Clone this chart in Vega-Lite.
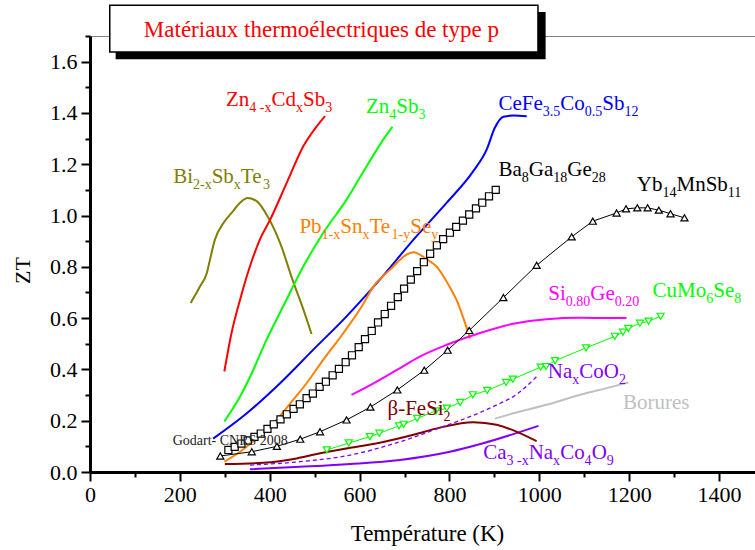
{
  "$schema": "https://vega.github.io/schema/vega-lite/v6.json",
  "width": 665,
  "height": 436,
  "autosize": "none",
  "padding": {"left": 90, "top": 36, "right": 0, "bottom": 78},
  "background": "white",
  "config": {
    "view": {"stroke": "#808080", "strokeWidth": 1},
    "font": "Liberation Serif"
  },
  "datasets": {
    "zt": [
      {"s": "Bi2-xSbxTe3", "T": 224, "ZT": 0.659}, {"s": "Bi2-xSbxTe3", "T": 245, "ZT": 0.724}, {"s": "Bi2-xSbxTe3", "T": 260, "ZT": 0.776}, {"s": "Bi2-xSbxTe3", "T": 267, "ZT": 0.828}, {"s": "Bi2-xSbxTe3", "T": 278, "ZT": 0.906}, {"s": "Bi2-xSbxTe3", "T": 297, "ZT": 0.971}, {"s": "Bi2-xSbxTe3", "T": 315, "ZT": 1.01}, {"s": "Bi2-xSbxTe3", "T": 334, "ZT": 1.05}, {"s": "Bi2-xSbxTe3", "T": 351, "ZT": 1.068}, {"s": "Bi2-xSbxTe3", "T": 371, "ZT": 1.056}, {"s": "Bi2-xSbxTe3", "T": 397, "ZT": 0.991}, {"s": "Bi2-xSbxTe3", "T": 423, "ZT": 0.893}, {"s": "Bi2-xSbxTe3", "T": 452, "ZT": 0.743}, {"s": "Bi2-xSbxTe3", "T": 475, "ZT": 0.633}, {"s": "Bi2-xSbxTe3", "T": 493, "ZT": 0.538},

      {"s": "Zn4-xCdxSb3", "T": 299, "ZT": 0.392}, {"s": "Zn4-xCdxSb3", "T": 315, "ZT": 0.542}, {"s": "Zn4-xCdxSb3", "T": 334, "ZT": 0.672}, {"s": "Zn4-xCdxSb3", "T": 356, "ZT": 0.802}, {"s": "Zn4-xCdxSb3", "T": 378, "ZT": 0.906}, {"s": "Zn4-xCdxSb3", "T": 401, "ZT": 0.984}, {"s": "Zn4-xCdxSb3", "T": 438, "ZT": 1.128}, {"s": "Zn4-xCdxSb3", "T": 475, "ZT": 1.271}, {"s": "Zn4-xCdxSb3", "T": 505, "ZT": 1.349}, {"s": "Zn4-xCdxSb3", "T": 523, "ZT": 1.388},

      {"s": "Zn4Sb3", "T": 299, "ZT": 0.197}, {"s": "Zn4Sb3", "T": 334, "ZT": 0.294}, {"s": "Zn4Sb3", "T": 360, "ZT": 0.385}, {"s": "Zn4Sb3", "T": 393, "ZT": 0.516}, {"s": "Zn4Sb3", "T": 430, "ZT": 0.646}, {"s": "Zn4Sb3", "T": 475, "ZT": 0.802}, {"s": "Zn4Sb3", "T": 519, "ZT": 0.932}, {"s": "Zn4Sb3", "T": 571, "ZT": 1.062}, {"s": "Zn4Sb3", "T": 616, "ZT": 1.193}, {"s": "Zn4Sb3", "T": 653, "ZT": 1.297}, {"s": "Zn4Sb3", "T": 673, "ZT": 1.346},

      {"s": "CeFe3.5Co0.5Sb12", "T": 274, "ZT": 0.13}, {"s": "CeFe3.5Co0.5Sb12", "T": 349, "ZT": 0.229}, {"s": "CeFe3.5Co0.5Sb12", "T": 423, "ZT": 0.346}, {"s": "CeFe3.5Co0.5Sb12", "T": 497, "ZT": 0.477}, {"s": "CeFe3.5Co0.5Sb12", "T": 571, "ZT": 0.607}, {"s": "CeFe3.5Co0.5Sb12", "T": 645, "ZT": 0.75}, {"s": "CeFe3.5Co0.5Sb12", "T": 720, "ZT": 0.906}, {"s": "CeFe3.5Co0.5Sb12", "T": 794, "ZT": 1.05}, {"s": "CeFe3.5Co0.5Sb12", "T": 853, "ZT": 1.173}, {"s": "CeFe3.5Co0.5Sb12", "T": 883, "ZT": 1.258}, {"s": "CeFe3.5Co0.5Sb12", "T": 901, "ZT": 1.342}, {"s": "CeFe3.5Co0.5Sb12", "T": 920, "ZT": 1.385}, {"s": "CeFe3.5Co0.5Sb12", "T": 942, "ZT": 1.39}, {"s": "CeFe3.5Co0.5Sb12", "T": 972, "ZT": 1.387},

      {"s": "Pb1-xSnxTe1-ySey", "T": 299, "ZT": 0.04}, {"s": "Pb1-xSnxTe1-ySey", "T": 334, "ZT": 0.079}, {"s": "Pb1-xSnxTe1-ySey", "T": 371, "ZT": 0.131}, {"s": "Pb1-xSnxTe1-ySey", "T": 415, "ZT": 0.203}, {"s": "Pb1-xSnxTe1-ySey", "T": 452, "ZT": 0.281}, {"s": "Pb1-xSnxTe1-ySey", "T": 482, "ZT": 0.346}, {"s": "Pb1-xSnxTe1-ySey", "T": 519, "ZT": 0.437}, {"s": "Pb1-xSnxTe1-ySey", "T": 564, "ZT": 0.542}, {"s": "Pb1-xSnxTe1-ySey", "T": 605, "ZT": 0.646}, {"s": "Pb1-xSnxTe1-ySey", "T": 631, "ZT": 0.724}, {"s": "Pb1-xSnxTe1-ySey", "T": 668, "ZT": 0.789}, {"s": "Pb1-xSnxTe1-ySey", "T": 705, "ZT": 0.848}, {"s": "Pb1-xSnxTe1-ySey", "T": 720, "ZT": 0.857}, {"s": "Pb1-xSnxTe1-ySey", "T": 749, "ZT": 0.83}, {"s": "Pb1-xSnxTe1-ySey", "T": 772, "ZT": 0.8}, {"s": "Pb1-xSnxTe1-ySey", "T": 801, "ZT": 0.72}, {"s": "Pb1-xSnxTe1-ySey", "T": 816, "ZT": 0.67}, {"s": "Pb1-xSnxTe1-ySey", "T": 831, "ZT": 0.6}, {"s": "Pb1-xSnxTe1-ySey", "T": 846, "ZT": 0.52},

      {"s": "Si0.80Ge0.20", "T": 582, "ZT": 0.301}, {"s": "Si0.80Ge0.20", "T": 631, "ZT": 0.346}, {"s": "Si0.80Ge0.20", "T": 683, "ZT": 0.398}, {"s": "Si0.80Ge0.20", "T": 734, "ZT": 0.45}, {"s": "Si0.80Ge0.20", "T": 794, "ZT": 0.496}, {"s": "Si0.80Ge0.20", "T": 868, "ZT": 0.542}, {"s": "Si0.80Ge0.20", "T": 942, "ZT": 0.578}, {"s": "Si0.80Ge0.20", "T": 1016, "ZT": 0.596}, {"s": "Si0.80Ge0.20", "T": 1091, "ZT": 0.601}, {"s": "Si0.80Ge0.20", "T": 1194, "ZT": 0.6},

      {"s": "NaxCoO2", "T": 356, "ZT": 0.027}, {"s": "NaxCoO2", "T": 467, "ZT": 0.04}, {"s": "NaxCoO2", "T": 579, "ZT": 0.066}, {"s": "NaxCoO2", "T": 690, "ZT": 0.118}, {"s": "NaxCoO2", "T": 775, "ZT": 0.17}, {"s": "NaxCoO2", "T": 868, "ZT": 0.232}, {"s": "NaxCoO2", "T": 913, "ZT": 0.268}, {"s": "NaxCoO2", "T": 942, "ZT": 0.294}, {"s": "NaxCoO2", "T": 998, "ZT": 0.379},

      {"s": "Ca3-xNaxCo4O9", "T": 356, "ZT": 0.0105}, {"s": "Ca3-xNaxCo4O9", "T": 467, "ZT": 0.02}, {"s": "Ca3-xNaxCo4O9", "T": 579, "ZT": 0.031}, {"s": "Ca3-xNaxCo4O9", "T": 690, "ZT": 0.047}, {"s": "Ca3-xNaxCo4O9", "T": 801, "ZT": 0.079}, {"s": "Ca3-xNaxCo4O9", "T": 875, "ZT": 0.112}, {"s": "Ca3-xNaxCo4O9", "T": 998, "ZT": 0.18},

      {"s": "β-FeSi2", "T": 300, "ZT": 0.031}, {"s": "β-FeSi2", "T": 386, "ZT": 0.036}, {"s": "β-FeSi2", "T": 460, "ZT": 0.053}, {"s": "β-FeSi2", "T": 512, "ZT": 0.073}, {"s": "β-FeSi2", "T": 571, "ZT": 0.092}, {"s": "β-FeSi2", "T": 645, "ZT": 0.114}, {"s": "β-FeSi2", "T": 720, "ZT": 0.145}, {"s": "β-FeSi2", "T": 779, "ZT": 0.173}, {"s": "β-FeSi2", "T": 853, "ZT": 0.194}, {"s": "β-FeSi2", "T": 905, "ZT": 0.184}, {"s": "β-FeSi2", "T": 994, "ZT": 0.12},

      {"s": "Borures", "T": 901, "ZT": 0.208}, {"s": "Borures", "T": 942, "ZT": 0.229}, {"s": "Borures", "T": 1016, "ZT": 0.262}, {"s": "Borures", "T": 1091, "ZT": 0.301}, {"s": "Borures", "T": 1150, "ZT": 0.327}, {"s": "Borures", "T": 1198, "ZT": 0.349},

      {"s": "Yb14MnSb11", "T": 290, "ZT": 0.0625}, {"s": "Yb14MnSb11", "T": 360, "ZT": 0.079}, {"s": "Yb14MnSb11", "T": 416, "ZT": 0.1}, {"s": "Yb14MnSb11", "T": 468, "ZT": 0.128}, {"s": "Yb14MnSb11", "T": 512, "ZT": 0.157}, {"s": "Yb14MnSb11", "T": 571, "ZT": 0.203}, {"s": "Yb14MnSb11", "T": 624, "ZT": 0.253}, {"s": "Yb14MnSb11", "T": 684, "ZT": 0.32}, {"s": "Yb14MnSb11", "T": 744, "ZT": 0.397}, {"s": "Yb14MnSb11", "T": 796, "ZT": 0.475}, {"s": "Yb14MnSb11", "T": 844, "ZT": 0.552}, {"s": "Yb14MnSb11", "T": 920, "ZT": 0.68}, {"s": "Yb14MnSb11", "T": 994, "ZT": 0.806}, {"s": "Yb14MnSb11", "T": 1072, "ZT": 0.917}, {"s": "Yb14MnSb11", "T": 1119, "ZT": 0.978}, {"s": "Yb14MnSb11", "T": 1172, "ZT": 1.01}, {"s": "Yb14MnSb11", "T": 1193, "ZT": 1.026}, {"s": "Yb14MnSb11", "T": 1218, "ZT": 1.03}, {"s": "Yb14MnSb11", "T": 1241, "ZT": 1.03}, {"s": "Yb14MnSb11", "T": 1266, "ZT": 1.021}, {"s": "Yb14MnSb11", "T": 1292, "ZT": 1.007}, {"s": "Yb14MnSb11", "T": 1323, "ZT": 0.991},

      {"s": "CuMo6Se8", "T": 527, "ZT": 0.086}, {"s": "CuMo6Se8", "T": 576, "ZT": 0.113}, {"s": "CuMo6Se8", "T": 623, "ZT": 0.138}, {"s": "CuMo6Se8", "T": 644, "ZT": 0.151}, {"s": "CuMo6Se8", "T": 688, "ZT": 0.18}, {"s": "CuMo6Se8", "T": 698, "ZT": 0.186}, {"s": "CuMo6Se8", "T": 728, "ZT": 0.209}, {"s": "CuMo6Se8", "T": 770, "ZT": 0.238}, {"s": "CuMo6Se8", "T": 794, "ZT": 0.249}, {"s": "CuMo6Se8", "T": 824, "ZT": 0.271}, {"s": "CuMo6Se8", "T": 852, "ZT": 0.301}, {"s": "CuMo6Se8", "T": 884, "ZT": 0.318}, {"s": "CuMo6Se8", "T": 926, "ZT": 0.349}, {"s": "CuMo6Se8", "T": 941, "ZT": 0.362}, {"s": "CuMo6Se8", "T": 1003, "ZT": 0.409}, {"s": "CuMo6Se8", "T": 1015, "ZT": 0.411}, {"s": "CuMo6Se8", "T": 1035, "ZT": 0.434}, {"s": "CuMo6Se8", "T": 1104, "ZT": 0.484}, {"s": "CuMo6Se8", "T": 1168, "ZT": 0.529}, {"s": "CuMo6Se8", "T": 1186, "ZT": 0.545}, {"s": "CuMo6Se8", "T": 1198, "ZT": 0.56}, {"s": "CuMo6Se8", "T": 1224, "ZT": 0.58}, {"s": "CuMo6Se8", "T": 1243, "ZT": 0.588}, {"s": "CuMo6Se8", "T": 1270, "ZT": 0.607},

      {"s": "Ba8Ga18Ge28", "T": 308, "ZT": 0.086}, {"s": "Ba8Ga18Ge28", "T": 322, "ZT": 0.098}, {"s": "Ba8Ga18Ge28", "T": 337, "ZT": 0.111}, {"s": "Ba8Ga18Ge28", "T": 351, "ZT": 0.123}, {"s": "Ba8Ga18Ge28", "T": 366, "ZT": 0.137}, {"s": "Ba8Ga18Ge28", "T": 380, "ZT": 0.15}, {"s": "Ba8Ga18Ge28", "T": 395, "ZT": 0.168}, {"s": "Ba8Ga18Ge28", "T": 409, "ZT": 0.186}, {"s": "Ba8Ga18Ge28", "T": 424, "ZT": 0.205}, {"s": "Ba8Ga18Ge28", "T": 438, "ZT": 0.225}, {"s": "Ba8Ga18Ge28", "T": 453, "ZT": 0.246}, {"s": "Ba8Ga18Ge28", "T": 467, "ZT": 0.264}, {"s": "Ba8Ga18Ge28", "T": 482, "ZT": 0.288}, {"s": "Ba8Ga18Ge28", "T": 496, "ZT": 0.306}, {"s": "Ba8Ga18Ge28", "T": 511, "ZT": 0.332}, {"s": "Ba8Ga18Ge28", "T": 525, "ZT": 0.352}, {"s": "Ba8Ga18Ge28", "T": 540, "ZT": 0.377}, {"s": "Ba8Ga18Ge28", "T": 554, "ZT": 0.402}, {"s": "Ba8Ga18Ge28", "T": 569, "ZT": 0.428}, {"s": "Ba8Ga18Ge28", "T": 583, "ZT": 0.455}, {"s": "Ba8Ga18Ge28", "T": 598, "ZT": 0.487}, {"s": "Ba8Ga18Ge28", "T": 612, "ZT": 0.518}, {"s": "Ba8Ga18Ge28", "T": 627, "ZT": 0.55}, {"s": "Ba8Ga18Ge28", "T": 641, "ZT": 0.583}, {"s": "Ba8Ga18Ge28", "T": 656, "ZT": 0.616}, {"s": "Ba8Ga18Ge28", "T": 670, "ZT": 0.648}, {"s": "Ba8Ga18Ge28", "T": 685, "ZT": 0.682}, {"s": "Ba8Ga18Ge28", "T": 699, "ZT": 0.715}, {"s": "Ba8Ga18Ge28", "T": 714, "ZT": 0.75}, {"s": "Ba8Ga18Ge28", "T": 728, "ZT": 0.783}, {"s": "Ba8Ga18Ge28", "T": 743, "ZT": 0.818}, {"s": "Ba8Ga18Ge28", "T": 757, "ZT": 0.851}, {"s": "Ba8Ga18Ge28", "T": 772, "ZT": 0.884}, {"s": "Ba8Ga18Ge28", "T": 786, "ZT": 0.908}, {"s": "Ba8Ga18Ge28", "T": 801, "ZT": 0.933}, {"s": "Ba8Ga18Ge28", "T": 815, "ZT": 0.956}, {"s": "Ba8Ga18Ge28", "T": 830, "ZT": 0.98}, {"s": "Ba8Ga18Ge28", "T": 844, "ZT": 1.004}, {"s": "Ba8Ga18Ge28", "T": 859, "ZT": 1.028}, {"s": "Ba8Ga18Ge28", "T": 873, "ZT": 1.05}, {"s": "Ba8Ga18Ge28", "T": 888, "ZT": 1.075}, {"s": "Ba8Ga18Ge28", "T": 903, "ZT": 1.1}
    ],
    "labels": [
      {"s": "Zn4-xCdxSb3", "k": "base", "t": "Zn", "T": 302.7, "ZT": 1.427}, {"s": "Zn4-xCdxSb3", "k": "sub", "t": "4 -x", "T": 354.6, "ZT": 1.427}, {"s": "Zn4-xCdxSb3", "k": "base", "t": "Cd", "T": 403.9, "ZT": 1.427}, {"s": "Zn4-xCdxSb3", "k": "sub", "t": "x", "T": 458.4, "ZT": 1.427}, {"s": "Zn4-xCdxSb3", "k": "base", "t": "Sb", "T": 474.0, "ZT": 1.427}, {"s": "Zn4-xCdxSb3", "k": "sub", "t": "3", "T": 523.4, "ZT": 1.427},
      {"s": "Zn4Sb3", "k": "base", "t": "Zn", "T": 614, "ZT": 1.401}, {"s": "Zn4Sb3", "k": "sub", "t": "4", "T": 665.9, "ZT": 1.401}, {"s": "Zn4Sb3", "k": "base", "t": "Sb", "T": 681.5, "ZT": 1.401}, {"s": "Zn4Sb3", "k": "sub", "t": "3", "T": 730.9, "ZT": 1.401},
      {"s": "CeFe3.5Co0.5Sb12", "k": "base", "t": "CeFe", "T": 909, "ZT": 1.411}, {"s": "CeFe3.5Co0.5Sb12", "k": "sub", "t": "3.5", "T": 1007.7, "ZT": 1.411}, {"s": "CeFe3.5Co0.5Sb12", "k": "base", "t": "Co", "T": 1046.7, "ZT": 1.411}, {"s": "CeFe3.5Co0.5Sb12", "k": "sub", "t": "0.5", "T": 1101.2, "ZT": 1.411}, {"s": "CeFe3.5Co0.5Sb12", "k": "base", "t": "Sb", "T": 1140.2, "ZT": 1.411}, {"s": "CeFe3.5Co0.5Sb12", "k": "sub", "t": "12", "T": 1189.6, "ZT": 1.411},
      {"s": "Bi2-xSbxTe3", "k": "base", "t": "Bi", "T": 185, "ZT": 1.128}, {"s": "Bi2-xSbxTe3", "k": "sub", "t": "2-x", "T": 229.2, "ZT": 1.128}, {"s": "Bi2-xSbxTe3", "k": "base", "t": "Sb", "T": 270.7, "ZT": 1.128}, {"s": "Bi2-xSbxTe3", "k": "sub", "t": "x", "T": 320.1, "ZT": 1.128}, {"s": "Bi2-xSbxTe3", "k": "base", "t": "Te", "T": 335.7, "ZT": 1.128}, {"s": "Bi2-xSbxTe3", "k": "sub", "t": "3", "T": 385.0, "ZT": 1.128},
      {"s": "Pb1-xSnxTe1-ySey", "k": "base", "t": "Pb", "T": 466, "ZT": 0.93}, {"s": "Pb1-xSnxTe1-ySey", "k": "sub", "t": "1-x", "T": 515.4, "ZT": 0.93}, {"s": "Pb1-xSnxTe1-ySey", "k": "base", "t": "Sn", "T": 556.9, "ZT": 0.93}, {"s": "Pb1-xSnxTe1-ySey", "k": "sub", "t": "x", "T": 606.3, "ZT": 0.93}, {"s": "Pb1-xSnxTe1-ySey", "k": "base", "t": "Te", "T": 621.9, "ZT": 0.93}, {"s": "Pb1-xSnxTe1-ySey", "k": "sub", "t": "1-y", "T": 671.2, "ZT": 0.93}, {"s": "Pb1-xSnxTe1-ySey", "k": "base", "t": "Se", "T": 712.7, "ZT": 0.93}, {"s": "Pb1-xSnxTe1-ySey", "k": "sub", "t": "y", "T": 759.4, "ZT": 0.93},
      {"s": "Ba8Ga18Ge28", "k": "base", "t": "Ba", "T": 909, "ZT": 1.153}, {"s": "Ba8Ga18Ge28", "k": "sub", "t": "8", "T": 960.9, "ZT": 1.153}, {"s": "Ba8Ga18Ge28", "k": "base", "t": "Ga", "T": 976.5, "ZT": 1.153}, {"s": "Ba8Ga18Ge28", "k": "sub", "t": "18", "T": 1031.0, "ZT": 1.153}, {"s": "Ba8Ga18Ge28", "k": "base", "t": "Ge", "T": 1062.2, "ZT": 1.153}, {"s": "Ba8Ga18Ge28", "k": "sub", "t": "28", "T": 1116.7, "ZT": 1.153},
      {"s": "Yb14MnSb11", "k": "base", "t": "Yb", "T": 1217, "ZT": 1.095}, {"s": "Yb14MnSb11", "k": "sub", "t": "14", "T": 1274.1, "ZT": 1.095}, {"s": "Yb14MnSb11", "k": "base", "t": "MnSb", "T": 1305.3, "ZT": 1.095}, {"s": "Yb14MnSb11", "k": "sub", "t": "11", "T": 1419.6, "ZT": 1.095},
      {"s": "Si0.80Ge0.20", "k": "base", "t": "Si", "T": 1020, "ZT": 0.672}, {"s": "Si0.80Ge0.20", "k": "sub", "t": "0.80", "T": 1059.0, "ZT": 0.672}, {"s": "Si0.80Ge0.20", "k": "base", "t": "Ge", "T": 1113.5, "ZT": 0.672}, {"s": "Si0.80Ge0.20", "k": "sub", "t": "0.20", "T": 1168.0, "ZT": 0.672},
      {"s": "CuMo6Se8", "k": "base", "t": "CuMo", "T": 1252, "ZT": 0.681}, {"s": "CuMo6Se8", "k": "sub", "t": "6", "T": 1371.5, "ZT": 0.681}, {"s": "CuMo6Se8", "k": "base", "t": "Se", "T": 1387.1, "ZT": 0.681}, {"s": "CuMo6Se8", "k": "sub", "t": "8", "T": 1433.8, "ZT": 0.681},
      {"s": "NaxCoO2", "k": "base", "t": "Na", "T": 1019, "ZT": 0.366}, {"s": "NaxCoO2", "k": "sub", "t": "x", "T": 1073.5, "ZT": 0.366}, {"s": "NaxCoO2", "k": "base", "t": "CoO", "T": 1089.1, "ZT": 0.366}, {"s": "NaxCoO2", "k": "sub", "t": "2", "T": 1177.4, "ZT": 0.366},
      {"s": "Borures", "k": "base", "t": "Borures", "T": 1186, "ZT": 0.246},
      {"s": "β-FeSi2", "k": "base", "t": "β-FeSi", "T": 662, "ZT": 0.223}, {"s": "β-FeSi2", "k": "sub", "t": "2", "T": 786.7, "ZT": 0.223},
      {"s": "Ca3-xNaxCo4O9", "k": "base", "t": "Ca", "T": 875, "ZT": 0.0495}, {"s": "Ca3-xNaxCo4O9", "k": "sub", "t": "3 -x", "T": 926.9, "ZT": 0.0495}, {"s": "Ca3-xNaxCo4O9", "k": "base", "t": "Na", "T": 976.2, "ZT": 0.0495}, {"s": "Ca3-xNaxCo4O9", "k": "sub", "t": "x", "T": 1030.7, "ZT": 0.0495}, {"s": "Ca3-xNaxCo4O9", "k": "base", "t": "Co", "T": 1046.3, "ZT": 0.0495}, {"s": "Ca3-xNaxCo4O9", "k": "sub", "t": "4", "T": 1100.8, "ZT": 0.0495}, {"s": "Ca3-xNaxCo4O9", "k": "base", "t": "O", "T": 1116.4, "ZT": 0.0495}, {"s": "Ca3-xNaxCo4O9", "k": "sub", "t": "9", "T": 1150.1, "ZT": 0.0495}
    ],
    "banner": [
      {"part": "shadow", "T": 57, "T2": 1014, "ZT": 1.609, "ZT2": 1.794},
      {"part": "box", "T": 44, "T2": 997, "ZT": 1.638, "ZT2": 1.82}
    ],
    "notes": [
      {"part": "title", "t": "Matériaux thermoélectriques de type p", "T": 515, "ZT": 1.698},
      {"part": "credit", "t": "Godart- CNRS  2008", "T": 184, "ZT": 0.105}
    ]
  },
  "encoding": {
    "x": {
      "field": "T", "type": "quantitative",
      "scale": {"domain": [0, 1480], "nice": false, "zero": false},
      "axis": {
        "values": [0, 100, 200, 300, 400, 500, 600, 700, 800, 900, 1000, 1100, 1200, 1300, 1400],
        "labelExpr": "datum.value % 200 === 0 ? datum.label : ''",
        "format": "d",
        "tickSize": {"condition": {"test": "datum.value % 200 === 0", "value": 9}, "value": 5},
        "tickWidth": 2, "tickColor": "black",
        "domainColor": "black", "domainWidth": 3,
        "labelFont": "Liberation Serif", "labelFontSize": 22, "labelColor": "black", "labelPadding": 3,
        "labelFlush": false, "labelOverlap": false, "grid": false,
        "title": "Température (K)", "titleFont": "Liberation Serif", "titleFontSize": 23, "titleFontWeight": "normal", "titleColor": "black",
        "titleX": 337, "titleY": 68, "titleBaseline": "alphabetic", "titleAlign": "center"
      }
    },
    "y": {
      "field": "ZT", "type": "quantitative",
      "scale": {"domain": [0, 1.7], "nice": false},
      "axis": {
        "values": [0, 0.1, 0.2, 0.3, 0.4, 0.5, 0.6, 0.7, 0.8, 0.9, 1.0, 1.1, 1.2, 1.3, 1.4, 1.5, 1.6, 1.7],
        "labelExpr": "round(datum.value * 10) % 2 === 0 ? format(datum.value, '.1f') : ''",
        "tickSize": {"condition": {"test": "round(datum.value * 10) % 2 === 0", "value": 9}, "value": 5},
        "tickWidth": 2, "tickColor": "black",
        "domainColor": "black", "domainWidth": 3,
        "labelFont": "Liberation Serif", "labelFontSize": 22, "labelColor": "black", "labelPadding": 4,
        "labelOverlap": false, "labelFlush": false, "grid": false,
        "title": "ZT", "titleFont": "Liberation Serif", "titleFontSize": 22, "titleFontWeight": "normal", "titleColor": "black",
        "titleX": -68, "titleY": 234, "titleAngle": -90, "titleBaseline": "middle", "titleAlign": "center"
      }
    }
  },
  "layer": [
    {
      "data": {"name": "banner"},
      "transform": [{"filter": "datum.part === 'shadow'"}],
      "mark": {"type": "rect", "fill": "black"},
      "encoding": {"x2": {"field": "T2"}, "y2": {"field": "ZT2"}}
    },
    {
      "data": {"name": "banner"},
      "transform": [{"filter": "datum.part === 'box'"}],
      "mark": {"type": "rect", "fill": "white", "stroke": "black", "strokeWidth": 1.5},
      "encoding": {"x2": {"field": "T2"}, "y2": {"field": "ZT2"}}
    },
    {
      "data": {"name": "notes"},
      "transform": [{"filter": "datum.part === 'title'"}],
      "mark": {"type": "text", "font": "Liberation Serif", "fontSize": 23, "fill": "#ff0000", "align": "center", "baseline": "alphabetic"},
      "encoding": {"text": {"field": "t"}}
    },
    {
      "data": {"name": "zt"},
      "transform": [{"filter": {"field": "s", "oneOf": ["Bi2-xSbxTe3", "Zn4-xCdxSb3", "Zn4Sb3", "CeFe3.5Co0.5Sb12", "Pb1-xSnxTe1-ySey", "Si0.80Ge0.20", "Ca3-xNaxCo4O9", "β-FeSi2", "Borures"]}}],
      "mark": {"type": "line", "strokeWidth": 2, "interpolate": "monotone"},
      "encoding": {
        "color": {"field": "s", "type": "nominal", "legend": null,
          "scale": {
            "domain": ["Zn4-xCdxSb3", "Zn4Sb3", "CeFe3.5Co0.5Sb12", "Bi2-xSbxTe3", "Pb1-xSnxTe1-ySey", "Ba8Ga18Ge28", "Yb14MnSb11", "Si0.80Ge0.20", "CuMo6Se8", "NaxCoO2", "Ca3-xNaxCo4O9", "Borures", "β-FeSi2"],
            "range": ["#ff0000", "#00ff00", "#0000ff", "#808000", "#ff8000", "#000000", "#000000", "#ff00ff", "#00ff00", "#8000ff", "#8000ff", "#c0c0c0", "#800000"]
          }
        }
      }
    },
    {
      "data": {"name": "zt"},
      "transform": [{"filter": {"field": "s", "equal": "NaxCoO2"}}],
      "mark": {"type": "line", "strokeWidth": 1.3, "strokeDash": [4, 3], "color": "#8000ff", "interpolate": "monotone"},
      "encoding": {}
    },
    {
      "data": {"name": "zt"},
      "transform": [{"filter": {"field": "s", "oneOf": ["Ba8Ga18Ge28", "Yb14MnSb11", "CuMo6Se8"]}}],
      "mark": {"type": "line", "strokeWidth": 1},
      "encoding": {"color": {"field": "s", "type": "nominal", "legend": null}}
    },
    {
      "data": {"name": "zt"},
      "transform": [{"filter": {"field": "s", "oneOf": ["Ba8Ga18Ge28", "Yb14MnSb11", "CuMo6Se8"]}}],
      "mark": {"type": "point", "filled": false, "fill": "white", "fillOpacity": 1, "strokeWidth": 1.2, "size": 50, "opacity": 1},
      "encoding": {
        "shape": {"field": "s", "type": "nominal", "legend": null,
          "scale": {"domain": ["Ba8Ga18Ge28", "Yb14MnSb11", "CuMo6Se8"], "range": ["square", "triangle-up", "triangle-down"]}},
        "stroke": {"field": "s", "type": "nominal", "legend": null,
          "scale": {"domain": ["Ba8Ga18Ge28", "Yb14MnSb11", "CuMo6Se8"], "range": ["#000000", "#000000", "#00ff00"]}}
      }
    },
    {
      "data": {"name": "labels"},
      "transform": [{"filter": "datum.k === 'base'"}],
      "mark": {"type": "text", "font": "Liberation Serif", "fontSize": 21, "align": "left", "baseline": "alphabetic"},
      "encoding": {"text": {"field": "t"}, "color": {"field": "s", "type": "nominal", "legend": null}}
    },
    {
      "data": {"name": "labels"},
      "transform": [{"filter": "datum.k === 'sub'"}],
      "mark": {"type": "text", "font": "Liberation Serif", "fontSize": 14, "align": "left", "baseline": "alphabetic", "dy": 6},
      "encoding": {"text": {"field": "t"}, "color": {"field": "s", "type": "nominal", "legend": null}}
    },
    {
      "data": {"name": "notes"},
      "transform": [{"filter": "datum.part === 'credit'"}],
      "mark": {"type": "text", "font": "Liberation Serif", "fontSize": 14, "fill": "#222222", "align": "left", "baseline": "alphabetic"},
      "encoding": {"text": {"field": "t"}}
    }
  ]
}
